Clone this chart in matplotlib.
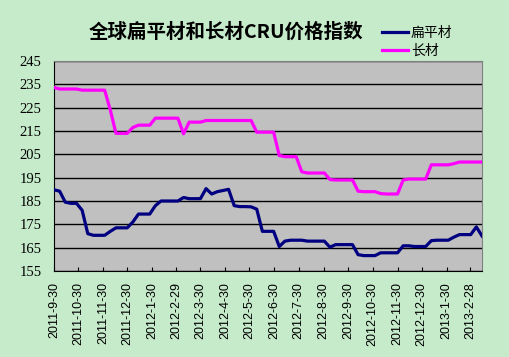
import numpy as np
import pandas as pd
import matplotlib
matplotlib.use('Agg')
import matplotlib.pyplot as plt
import matplotlib.dates as mdates

# weekly CRU index readings, Fridays from 2011-9-30
dates = pd.date_range('2011-09-30', periods=77, freq='7D')

flat = [189.8, 189.2, 184.5, 184, 184, 181, 171, 170.3, 170.3, 170.3,
        172, 173.5, 173.5, 173.5, 176, 179.4, 179.4, 179.4, 183, 185,
        185, 185, 185, 186.5, 186, 186, 186, 190.3, 188, 189,
        189.5, 190, 183, 182.6, 182.6, 182.5, 181.5, 172, 172, 172,
        165.5, 167.8, 168.2, 168.2, 168.2, 167.8, 167.8, 167.8, 167.8, 165.2,
        166.3, 166.3, 166.3, 166.3, 162, 161.6, 161.6, 161.6, 162.8, 162.8,
        162.8, 162.8, 165.8, 165.8, 165.5, 165.5, 165.5, 168, 168.2, 168.2,
        168.2, 169.5, 170.6, 170.6, 170.6, 173.9, 170]

long_ = [233.7, 233, 233, 233, 233, 232.5, 232.5, 232.5, 232.5, 232.5,
         224, 214, 214, 214, 216.5, 217.5, 217.5, 217.5, 220.5, 220.5,
         220.5, 220.5, 220.5, 213.8, 218.8, 218.8, 218.8, 219.5, 219.5, 219.5,
         219.5, 219.5, 219.5, 219.5, 219.5, 219.5, 214.5, 214.5, 214.5, 214.5,
         204.5, 204, 204, 204, 197.5, 197, 197, 197, 197, 194.2,
         194, 194, 194, 194, 189.2, 189, 189, 189, 188.2, 188,
         188, 188, 194, 194.4, 194.4, 194.4, 194.4, 200.5, 200.5, 200.5,
         200.5, 201, 201.7, 201.7, 201.7, 201.7, 201.7]

tick_labels = ['2011-9-30', '2011-10-30', '2011-11-30', '2011-12-30',
               '2012-1-30', '2012-2-29', '2012-3-30', '2012-4-30',
               '2012-5-30', '2012-6-30', '2012-7-30', '2012-8-30',
               '2012-9-30', '2012-10-30', '2012-11-30', '2012-12-30',
               '2013-1-30', '2013-2-28']
y_ticks = np.arange(155, 246, 10)

cjk = ['Noto Sans CJK SC', 'DejaVu Sans']

fig = plt.figure(figsize=(5.09, 3.57), dpi=100, facecolor='#C6EBCB')
ax = fig.add_axes([54/509, 1 - 271/357, 428/509, 210/357])
ax.set_facecolor('#C0C0C0')

ax.plot(dates, flat, color='#000080', lw=2.3, label='扁平材', zorder=3)
ax.plot(dates, long_, color='#FF00FF', lw=2.3, label='长材', zorder=3)

ax.set_ylim(155, 245)
ax.set_yticks(y_ticks)
ax.yaxis.grid(True, color='k', lw=1, zorder=1)
ax.set_axisbelow(True)
ax.tick_params(axis='y', length=0, pad=9)
for t in ax.get_yticklabels():
    t.set_fontfamily('Liberation Serif')
    t.set_fontsize(10.5)

ax.set_xlim(dates[0], dates[-1])
ax.set_xticks(pd.to_datetime(tick_labels))
ax.set_xticklabels(tick_labels, rotation=90, fontfamily='Liberation Sans',
                   fontsize=9)
ax.tick_params(axis='x', direction='in', length=3, pad=8, color='k')

for s in ['top', 'right']:
    ax.spines[s].set_color('#808080')
for s in ['left', 'bottom']:
    ax.spines[s].set_color('k')

fig.text(226/509, 1 - 32/357, '全球扁平材和长材CRU价格指数', ha='center',
         va='center', fontsize=14, fontweight='bold', family=cjk)

fig.legend(loc='center left', bbox_to_anchor=(376/509, 1 - 42/357),
           frameon=False, prop={'family': cjk, 'size': 10},
           handlelength=1.9, handletextpad=0.2, labelspacing=0.3,
           borderaxespad=0)

fig.savefig('out.png', dpi=100, facecolor=fig.get_facecolor())
